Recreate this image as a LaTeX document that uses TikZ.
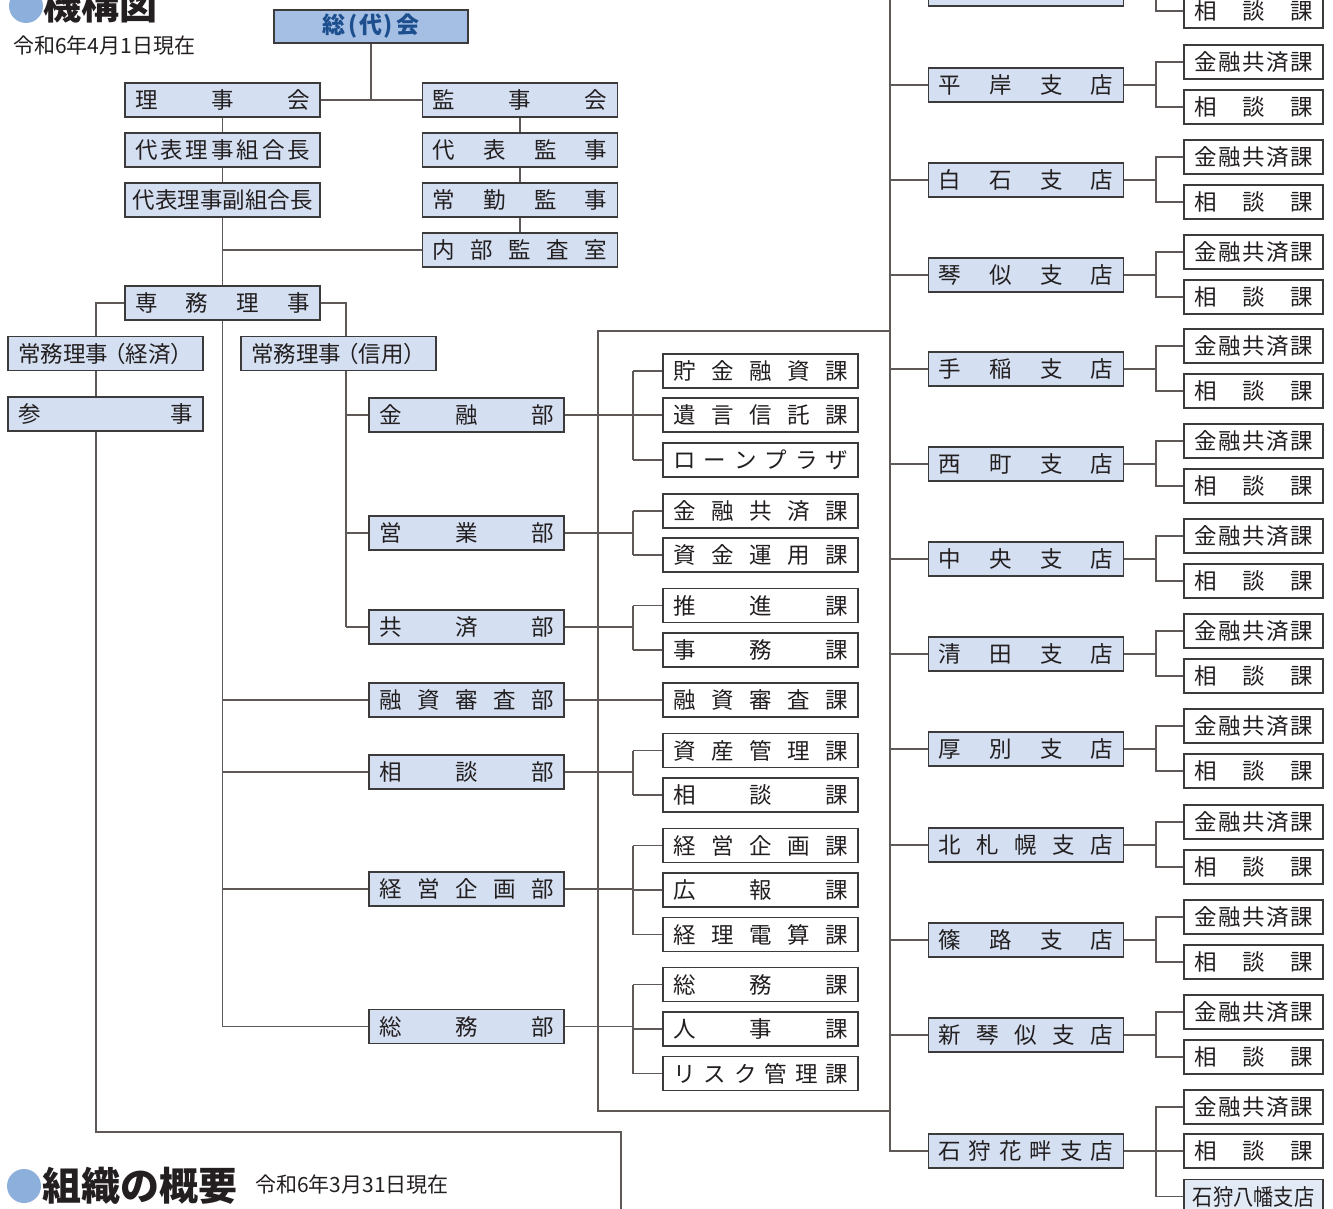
\documentclass[tikz,border=0pt]{standalone}
\usepackage{fontspec}
\usepackage{graphicx}
\setmainfont{Noto Sans CJK JP}
\definecolor{lb}{HTML}{D4DFF1}
\definecolor{lbb}{HTML}{E2EAF6}
\definecolor{db}{HTML}{A5BFE4}
\definecolor{bordc}{HTML}{3C3A3A}
\definecolor{connc}{HTML}{5E5857}
\definecolor{txtc}{HTML}{231F20}
\definecolor{navy}{HTML}{1D4F8E}
\definecolor{dotc}{HTML}{8CAFDC}
\newcommand\spr[2]{\makebox[#1]{#2}}
\tikzset{
  box/.style={draw=bordc, line width=1.2pt, minimum width=195pt, minimum height=34pt,
    inner sep=0pt, text=txtc, font=\fontsize{22.5}{22.5}\selectfont},
  bl/.style={box, fill=lb},
  wh/.style={box, fill=white},
  sb/.style={box, fill=white, minimum width=139pt},
  conn/.style={draw=connc, line width=1.3pt},
}
\begin{document}
\begin{tikzpicture}[x=1pt,y=-1pt]
\useasboundingbox (0,0) rectangle (1333,1209);
\clip (0,0) rectangle (1333,1209);

% titles
\fill[dotc] (26,6) circle (17);
\node[anchor=west, inner sep=0pt, text=txtc, font=\fontsize{38}{38}\selectfont\bfseries] (title1) at (43,5) {機構図};
\node[anchor=west, inner sep=0pt, text=txtc, font=\fontsize{21}{21}\selectfont] (date1) at (13,46) {令和6年4月1日現在};
\fill[dotc] (24,1186) circle (17);
\node[anchor=west, inner sep=0pt, text=txtc, font=\fontsize{39}{39}\selectfont\bfseries] (title2) at (42,1186) {組織の概要};
\node[anchor=west, inner sep=0pt, text=txtc, font=\fontsize{21}{21}\selectfont] (date2) at (255,1185) {令和6年3月31日現在};

% top management
\node[box, fill=db, minimum width=194pt, minimum height=33pt, text=navy, font=\fontsize{23}{23}\selectfont\bfseries] (sodai) at (371,26.5) {総\kern3pt(\kern1.5pt代\kern1.5pt)\kern3pt会};
\node[bl] (riji) at (222.5,100) {\spr{175pt}{理\hfill 事\hfill 会}};
\node[bl] (kanjikai) at (520,100) {\spr{175pt}{監\hfill 事\hfill 会}};
\node[bl] (kumiai) at (222.5,150) {\spr{175pt}{代\hfill 表\hfill 理\hfill 事\hfill 組\hfill 合\hfill 長}};
\node[bl] (dkanji) at (520,150) {\spr{175pt}{代\hfill 表\hfill 監\hfill 事}};
\node[bl] (fuku) at (222.5,200) {\spr{175pt}{代\hfill 表\hfill 理\hfill 事\hfill 副\hfill 組\hfill 合\hfill 長}};
\node[bl] (jkanji) at (520,200) {\spr{175pt}{常\hfill 勤\hfill 監\hfill 事}};
\node[bl] (naibu) at (520,250) {\spr{175pt}{内\hfill 部\hfill 監\hfill 査\hfill 室}};
\node[bl] (senmu) at (222.5,303) {\spr{175pt}{専\hfill 務\hfill 理\hfill 事}};
\node[bl] (keizai) at (105.5,353.5) {\spr{175pt}{常務理事\kern-5pt（経済）\hfill}};
\node[bl] (shinyo) at (338.5,353.5) {\spr{175pt}{常務理事\kern-5pt（信用）\hfill}};
\node[bl] (sanji) at (105.5,414) {\spr{175pt}{参\hfill 事}};

% departments
\node[bl] (kinyu) at (466.5,415) {\spr{175pt}{金\hfill 融\hfill 部}};
\node[bl] (eigyo) at (466.5,533) {\spr{175pt}{営\hfill 業\hfill 部}};
\node[bl] (kyosai) at (466.5,627) {\spr{175pt}{共\hfill 済\hfill 部}};
\node[bl] (yushi) at (466.5,700) {\spr{175pt}{融\hfill 資\hfill 審\hfill 査\hfill 部}};
\node[bl] (sodan) at (466.5,772) {\spr{175pt}{相\hfill 談\hfill 部}};
\node[bl] (keiei) at (466.5,889) {\spr{175pt}{経\hfill 営\hfill 企\hfill 画\hfill 部}};
\node[bl] (somu) at (466.5,1026.5) {\spr{175pt}{総\hfill 務\hfill 部}};

% sections
\node[wh] (chokin) at (760.5,371) {\spr{175pt}{貯\hfill 金\hfill 融\hfill 資\hfill 課}};
\node[wh] (yuigon) at (760.5,415) {\spr{175pt}{遺\hfill 言\hfill 信\hfill 託\hfill 課}};
\node[wh] (loan) at (760.5,460) {\spr{175pt}{ロ\hfill ー\hfill ン\hfill プ\hfill ラ\hfill ザ}};
\node[wh] (kkyosai) at (760.5,511) {\spr{175pt}{金\hfill 融\hfill 共\hfill 済\hfill 課}};
\node[wh] (shikin) at (760.5,555) {\spr{175pt}{資\hfill 金\hfill 運\hfill 用\hfill 課}};
\node[wh] (suishin) at (760.5,605.5) {\spr{175pt}{推\hfill 進\hfill 課}};
\node[wh] (jimu) at (760.5,650) {\spr{175pt}{事\hfill 務\hfill 課}};
\node[wh] (yushika) at (760.5,700) {\spr{175pt}{融\hfill 資\hfill 審\hfill 査\hfill 課}};
\node[wh] (shisan) at (760.5,750.5) {\spr{175pt}{資\hfill 産\hfill 管\hfill 理\hfill 課}};
\node[wh] (sodanka) at (760.5,795) {\spr{175pt}{相\hfill 談\hfill 課}};
\node[wh] (kikaku) at (760.5,845.5) {\spr{175pt}{経\hfill 営\hfill 企\hfill 画\hfill 課}};
\node[wh] (koho) at (760.5,890) {\spr{175pt}{広\hfill 報\hfill 課}};
\node[wh] (denzan) at (760.5,934.5) {\spr{175pt}{経\hfill 理\hfill 電\hfill 算\hfill 課}};
\node[wh] (somuka) at (760.5,984.5) {\spr{175pt}{総\hfill 務\hfill 課}};
\node[wh] (jinji) at (760.5,1029) {\spr{175pt}{人\hfill 事\hfill 課}};
\node[wh] (risk) at (760.5,1073.5) {\spr{175pt}{リ\hfill ス\hfill ク\hfill 管\hfill 理\hfill 課}};

% helper coordinates
\coordinate (kx) at (96,0);
\coordinate (sx) at (346,0);
\coordinate (dx) at (633,0);
\coordinate (tx) at (890,0);
\coordinate (bx) at (1156,0);
\coordinate (ttop) at (890,-5);
\coordinate (btop) at (1156,-5);
\coordinate (r1) at (598,331);
\coordinate (r2) at (598,1111);
\coordinate (c1) at (96,1132);
\coordinate (c2) at (621,1132);
\coordinate (c3) at (621,1215);

% branches
\node[bl] (b0) at (1026,-11) {};
\node[sb] (s0) at (1253.5,11) {\spr{119pt}{相\hfill 談\hfill 課}};
\foreach \i/\y/\t in {1/85/{平\hfill 岸\hfill 支\hfill 店},
                     2/180/{白\hfill 石\hfill 支\hfill 店},
                     3/275/{琴\hfill 似\hfill 支\hfill 店},
                     4/369/{手\hfill 稲\hfill 支\hfill 店},
                     5/464/{西\hfill 町\hfill 支\hfill 店},
                     6/559/{中\hfill 央\hfill 支\hfill 店},
                     7/654/{清\hfill 田\hfill 支\hfill 店},
                     8/749/{厚\hfill 別\hfill 支\hfill 店},
                     9/845/{北\hfill 札\hfill 幌\hfill 支\hfill 店},
                     10/940/{篠\hfill 路\hfill 支\hfill 店},
                     11/1035/{新\hfill 琴\hfill 似\hfill 支\hfill 店}}{
  \node[bl] (b\i) at (1026,\y) {\spr{175pt}{\t}};
  \node[sb] (k\i) at (1253.5,\y-23) {\spr{119pt}{金\hfill 融\hfill 共\hfill 済\hfill 課}};
  \node[sb] (s\i) at (1253.5,\y+22) {\spr{119pt}{相\hfill 談\hfill 課}};
  \draw[conn] (tx |- b\i.west) -- (b\i.west);
  \draw[conn] (b\i.east) -- (b\i.east -| bx);
  \draw[conn] (k\i.west) -- (k\i.west -| bx) -- (s\i.west -| bx) -- (s\i.west);
}
\node[bl] (hanaguro) at (1026,1151) {\spr{175pt}{石\hfill 狩\hfill 花\hfill 畔\hfill 支\hfill 店}};
\node[sb] (k12) at (1253.5,1107) {\spr{119pt}{金\hfill 融\hfill 共\hfill 済\hfill 課}};
\node[sb] (s12) at (1253.5,1151) {\spr{119pt}{相\hfill 談\hfill 課}};
\node[sb, fill=lbb] (yahata) at (1253.5,1196.5) {\spr{119pt}{\scalebox{0.9}[1]{石狩八幡支店}}};

% connectors: top management
\draw[conn] (riji.east) -- (kanjikai.west);
\draw[conn] (sodai.south) -- (sodai.south |- riji.east);
\draw[conn] (riji.south) -- (kumiai.north);
\draw[conn] (kumiai.south) -- (fuku.north);
\draw[conn] (fuku.south) -- (senmu.north);
\draw[conn] (fuku.south |- naibu.west) -- (naibu.west);
\draw[conn] (kanjikai.south) -- (dkanji.north);
\draw[conn] (dkanji.south) -- (jkanji.north);
\draw[conn] (jkanji.south) -- (naibu.north);
\draw[conn] (senmu.west) -| (kx |- keizai.north);
\draw[conn] (kx |- keizai.south) -- (kx |- sanji.north);
\draw[conn] (kx |- sanji.south) -- (c1) -- (c2) -- (c3);
\draw[conn] (senmu.east) -| (sx |- shinyo.north);
\draw[conn] (sx |- shinyo.south) -- (sx |- kyosai.west);
\foreach \n in {kinyu,eigyo,kyosai} \draw[conn] (sx |- \n.west) -- (\n.west);
\draw[conn] (senmu.south) -- (senmu.south |- somu.west);
\foreach \n in {yushi,sodan,keiei,somu} \draw[conn] (senmu.south |- \n.west) -- (\n.west);

% frame around sections
\draw[conn] (tx |- r1) -- (r1) -- (r2) -- (tx |- r2);

% departments to sections
\draw[conn] (kinyu.east) -- (kinyu.east -| dx);
\draw[conn] (chokin.west -| dx) -- (loan.west -| dx);
\foreach \n in {chokin,yuigon,loan} \draw[conn] (\n.west -| dx) -- (\n.west);
\draw[conn] (eigyo.east) -- (eigyo.east -| dx);
\draw[conn] (kkyosai.west -| dx) -- (shikin.west -| dx);
\foreach \n in {kkyosai,shikin} \draw[conn] (\n.west -| dx) -- (\n.west);
\draw[conn] (kyosai.east) -- (kyosai.east -| dx);
\draw[conn] (suishin.west -| dx) -- (jimu.west -| dx);
\foreach \n in {suishin,jimu} \draw[conn] (\n.west -| dx) -- (\n.west);
\draw[conn] (yushi.east) -- (yushika.west);
\draw[conn] (sodan.east) -- (sodan.east -| dx);
\draw[conn] (shisan.west -| dx) -- (sodanka.west -| dx);
\foreach \n in {shisan,sodanka} \draw[conn] (\n.west -| dx) -- (\n.west);
\draw[conn] (keiei.east) -- (keiei.east -| dx);
\draw[conn] (kikaku.west -| dx) -- (denzan.west -| dx);
\foreach \n in {kikaku,koho,denzan} \draw[conn] (\n.west -| dx) -- (\n.west);
\draw[conn] (somu.east) -- (somu.east -| dx);
\draw[conn] (somuka.west -| dx) -- (risk.west -| dx);
\foreach \n in {somuka,jinji,risk} \draw[conn] (\n.west -| dx) -- (\n.west);

% branch trunk
\draw[conn] (ttop) -- (tx |- hanaguro.west) -- (hanaguro.west);
\draw[conn] (tx |- b0.west) -- (b0.west);
\draw[conn] (btop) |- (s0.west);
\draw[conn] (hanaguro.east) -- (hanaguro.east -| bx);
\draw[conn] (k12.west) -- (k12.west -| bx) -- (yahata.west -| bx) -- (yahata.west);
\draw[conn] (s12.west -| bx) -- (s12.west);
\end{tikzpicture}
\end{document}
